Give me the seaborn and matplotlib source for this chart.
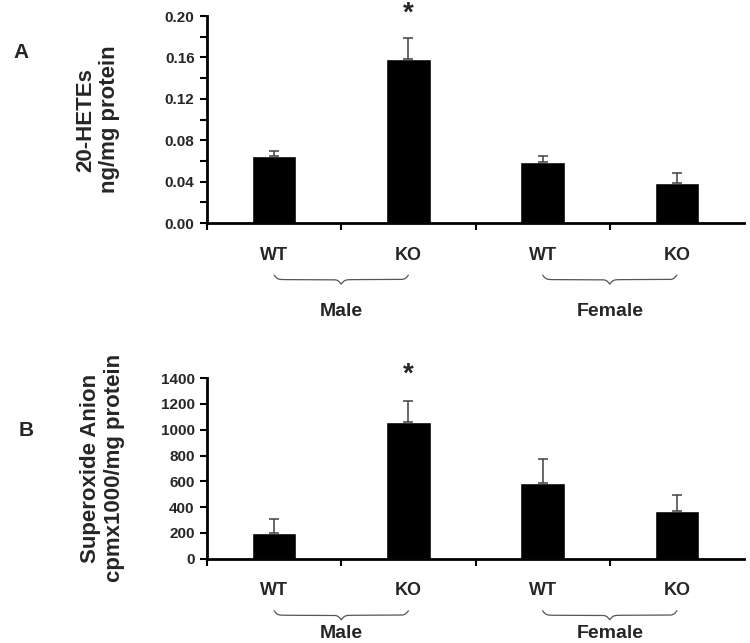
import matplotlib
matplotlib.use("Agg")
import matplotlib.pyplot as plt
import numpy as np
import pandas as pd
import seaborn as sns

groups = ["Male WT", "Male KO", "Female WT", "Female KO"]
genotype = ["WT", "KO", "WT", "KO"]
sex = ["Male", "Female"]

hete_mean = [0.065, 0.159, 0.059, 0.039]
hete_sem = [0.005, 0.020, 0.006, 0.009]

superoxide_mean = [200, 1060, 588, 372]
superoxide_sem = [108, 162, 185, 124]

sns.set_theme(style="white")
plt.rcParams["font.family"] = ["Liberation Sans", "DejaVu Sans"]
plt.rcParams["font.weight"] = "bold"

fig = plt.figure(figsize=(7.5, 6.43), dpi=100)
ax_a = fig.add_axes([0.276, 0.653, 0.716, 0.322])
ax_b = fig.add_axes([0.276, 0.131, 0.716, 0.281])


def brace(ax, x0, x1, top_px, tip_px, beta=80):
    # curly brace under the axis, y given as pixels below the x axis
    h_px = ax.get_position().height * fig.get_figheight() * fig.dpi
    half = (x1 - x0) / 2
    xh = np.linspace(0, half, 200)
    yh = 1 / (1 + np.exp(-beta * xh)) + 1 / (1 + np.exp(-beta * (xh - half)))
    ys = np.concatenate([yh, yh[-2::-1]])
    xs = np.concatenate([xh, xh[-2::-1] * -1 + 2 * half]) + x0
    ys = (ys - 0.5)  # 0 .. 1
    ys = -(top_px + ys * (tip_px - top_px)) / h_px
    ax.plot(xs, ys, color="#555555", lw=0.9, transform=ax.get_xaxis_transform(),
            clip_on=False)


def panel(ax, means, sems, ylim, step, minor, fmt, ylabel, label_x, letter,
          letter_xy, star_y, sex_px):
    df = pd.DataFrame({"group": groups, "value": means})
    sns.barplot(data=df, x="group", y="value", color="black", width=0.33,
                saturation=1, errorbar=None, ax=ax)
    ax.errorbar(range(4), means, yerr=[np.zeros(4), sems], fmt="none",
                ecolor="#404040", elinewidth=1.1, capsize=3.5, capthick=1.1)
    ax.set_xlim(-0.5, 3.5)
    ax.set_ylim(*ylim)
    ax.set_yticks(np.arange(0, ylim[1] + step / 2, step))
    ax.set_yticklabels([fmt.format(v) for v in np.arange(0, ylim[1] + step / 2, step)],
                       fontsize=11, fontweight="bold")
    if minor:
        ax.set_yticks(np.arange(0, ylim[1], minor), minor=True)
    ax.set_xticks(range(4))
    ax.set_xticklabels(genotype, fontsize=13, fontweight="bold")
    ax.set_xticks([-0.5, 0.5, 1.5, 2.5], minor=True)
    ax.tick_params(axis="x", which="major", length=0, pad=17)
    ax.tick_params(axis="x", which="minor", length=5, width=1.5, color="black",
                   direction="out", bottom=True)
    ax.tick_params(axis="y", which="both", length=5, width=1.5, color="black",
                   direction="out", left=True, pad=4)
    for s in ["top", "right"]:
        ax.spines[s].set_visible(False)
    for s in ["left", "bottom"]:
        ax.spines[s].set_color("black")
        ax.spines[s].set_linewidth(2)
    ax.set_xlabel("")
    ax.set_ylabel(ylabel, fontsize=16, fontweight="bold", linespacing=1.15)
    ax.yaxis.set_label_coords(label_x, 0.5)
    ax.text(1, star_y, "*", ha="center", va="center", fontsize=20,
            fontweight="bold", transform=ax.get_xaxis_transform())
    fig.text(letter_xy[0], letter_xy[1], letter, fontsize=15, fontweight="bold",
             ha="center", va="center")
    h_px = ax.get_position().height * fig.get_figheight() * fig.dpi
    brace(ax, 0, 1, 52, 61)
    brace(ax, 2, 3, 52, 61)
    for x, name in zip([0.5, 2.5], sex):
        ax.text(x, -sex_px / h_px, name, ha="center", va="center", fontsize=14,
                fontweight="bold", transform=ax.get_xaxis_transform(), clip_on=False)


panel(ax_a, hete_mean, hete_sem, (0, 0.20), 0.04, 0.02, "{:.2f}",
      "20-HETEs\nng/mg protein", -0.162, "A", (21 / 750, 1 - 52 / 643), 1.01, 88)
panel(ax_b, superoxide_mean, superoxide_sem, (0, 1400), 200, None, "{:.0f}",
      "Superoxide Anion\ncpmx1000/mg protein", -0.153, "B", (26 / 750, 1 - 431 / 643),
      1.02, 75)

fig.savefig("out.png", dpi=100)
